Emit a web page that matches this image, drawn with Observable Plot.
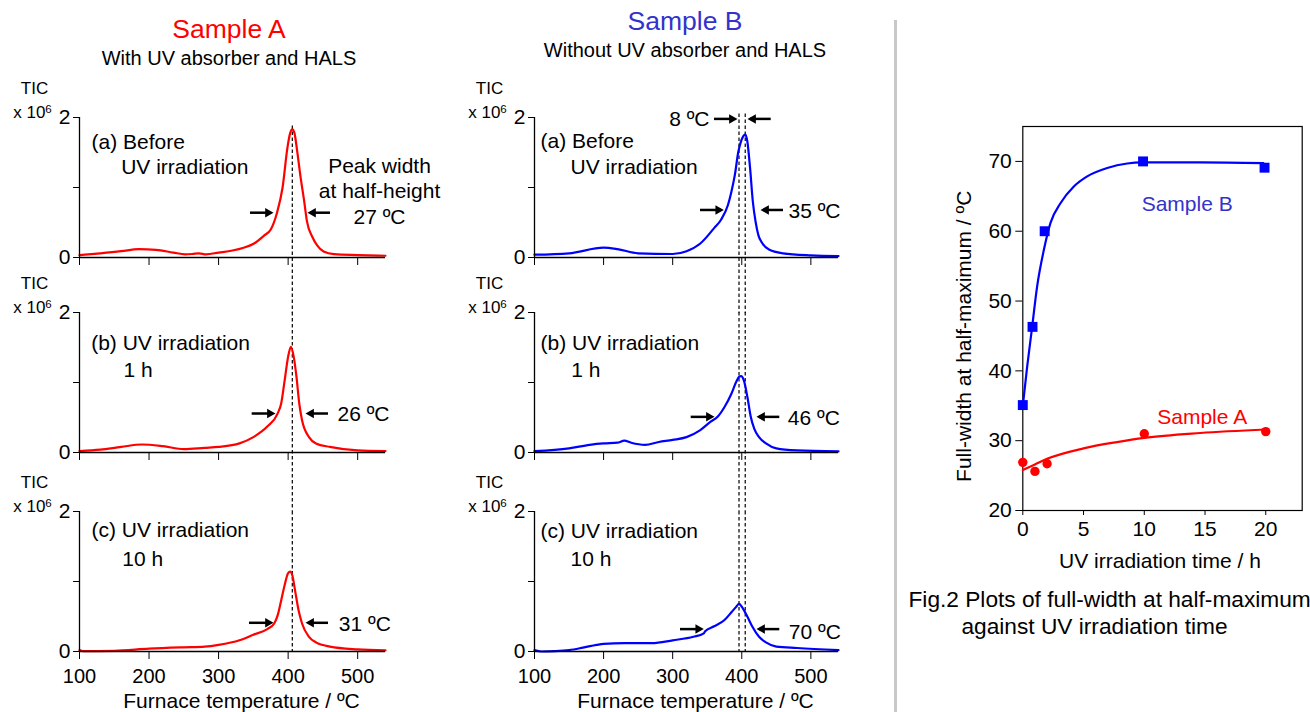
<!DOCTYPE html>
<html><head><meta charset="utf-8">
<script src="https://cdn.jsdelivr.net/npm/d3@7"></script>
<script src="https://cdn.jsdelivr.net/npm/@observablehq/plot@0.6"></script>
<style>
body{margin:0;background:#fff;}
#root{position:relative;width:1310px;height:712px;overflow:hidden;background:#fff;font-family:"Liberation Sans",Arial,Helvetica,sans-serif;}
.t{position:absolute;text-align:center;line-height:1;white-space:nowrap;}
</style></head><body><div id="root"></div>
<script>
// ---------- DATA ----------
const tempTicks = [100, 200, 300, 400, 500];
const ticTicks = [0, 1, 2];

// Sample A (red) TIC curves, x 10^6
const tempA_before = [100,130,160,185,210,235,252,262,272,282,300,320,336,351,365,375,384,392,399,403,406,409,413,418,423,427,435,442,451,466,500,540];
const ticA_before  = [.034,.06,.09,.12,.11,.07,.045,.05,.06,.045,.07,.1,.14,.2,.31,.4,.64,1.0,1.57,1.78,1.83,1.78,1.52,1.14,.81,.52,.29,.17,.086,.048,.035,.025];
const tempA_1h = [100,130,160,190,220,250,280,300,330,350,370,385,390,395,400,404,408,412,416,420,430,440,460,500,540];
const ticA_1h  = [.02,.04,.08,.114,.09,.048,.067,.08,.13,.22,.37,.56,.70,1.03,1.37,1.51,1.37,1.08,.70,.46,.22,.13,.08,.03,.02];
const tempA_10h = [100,105,150,200,250,280,300,330,350,370,380,385,390,395,400,403,406,410,415,420,430,440,460,500,540];
const ticA_10h  = [.02,.005,.01,.04,.06,.07,.095,.16,.24,.32,.40,.52,.73,.95,1.12,1.14,1.09,.87,.59,.40,.21,.13,.07,.03,.015];

// Sample B (blue) TIC curves
const tempB_before = [100,150,200,220,250,300,320,340,360,370,380,385,390,395,398,402,405,408,412,416,420,424,430,440,460,500,540];
const ticB_before  = [.04,.06,.14,.12,.06,.05,.09,.20,.42,.54,.75,.94,1.18,1.51,1.63,1.73,1.76,1.66,1.28,.80,.51,.32,.20,.11,.06,.03,.02];
const tempB_1h = [100,150,180,200,220,230,240,260,280,300,320,340,355,365,375,385,392,396,399,403,408,413,418,425,435,450,480,540];
const ticB_1h  = [.02,.06,.11,.13,.14,.17,.14,.11,.15,.18,.22,.32,.44,.51,.65,.84,1.01,1.08,1.09,1.03,.80,.51,.34,.22,.13,.06,.03,.015];
const tempB_10h = [100,110,130,150,170,190,200,230,270,300,330,345,347,360,375,385,392,396,400,408,415,425,435,450,480,540];
const ticB_10h  = [.02,0,.005,.02,.055,.095,.11,.12,.12,.16,.21,.26,.29,.36,.45,.56,.64,.68,.64,.50,.36,.21,.13,.07,.05,.02];

// peak-position dashed lines (ºC)
const dashA = [406];
const dashB = [396, 405];

// Fig.2 : full width at half maximum vs UV time
const timeTicks = [0, 5, 10, 15, 20];
const widthTicks = [20, 30, 40, 50, 60, 70];
const timeB = [0, 0.8, 1.8, 9.9, 19.9];
const widthB = [35.1, 46.3, 60.0, 70.0, 69.1];
const timeA = [0, 1, 2, 10, 20];
const widthA = [26.9, 25.6, 26.7, 31.0, 31.3];
const fitTimeB  = [0, 0.36, 0.77, 1.18, 1.73, 2.28, 3.1, 4.2, 5.3, 6.95, 8.6, 9.84, 14.6, 19.8];
const fitWidthB = [35, 40.6, 46.3, 52.1, 57.3, 61.2, 64.0, 66.4, 67.85, 69.05, 69.7, 69.85, 69.85, 69.75];
const fitTimeA  = [0, 1, 2, 5, 7.75, 10, 14.6, 20];
const fitWidthA = [25.8, 26.6, 27.4, 28.9, 29.8, 30.4, 31.1, 31.6];

// ---------- LAYOUT ----------
const FONT = '"Liberation Sans", Arial, Helvetica, sans-serif';
const RED = "#ff0000", BLUE = "#0000ff", TITLEBLUE = "#3333cc";
const root = document.getElementById("root");
function place(node, left, top) {
  node.style.position = "absolute";
  node.style.left = left + "px";
  node.style.top = top + "px";
  root.appendChild(node);
  return node;
}
function htmlText(txt, cx, top, size, color) {
  const d = document.createElement("div");
  d.className = "t";
  d.textContent = txt;
  d.style.fontSize = size + "px";
  d.style.color = color;
  d.style.width = "400px";
  place(d, cx - 200, top);
}

// titles
htmlText("Sample A", 229, 15.6, 26.5, RED);
htmlText("With UV absorber and HALS", 229, 48.1, 20, "#000");
htmlText("Sample B", 685, 7.6, 26.5, TITLEBLUE);
htmlText("Without UV absorber and HALS", 685, 40.4, 20, "#000");

// divider
const div = document.createElement("div");
div.style.width = "3px"; div.style.height = "692px"; div.style.background = "#c8c8c8";
place(div, 894, 20);

// arrow-head symbols (tip at the origin)
const triRight = {draw(ctx, size) { const r = Math.sqrt(size / Math.PI), L = 2.2 * r, w = 1.25 * r;
  ctx.moveTo(0, 0); ctx.lineTo(-L, -w); ctx.lineTo(-L, w); ctx.closePath(); }};
const triLeft = {draw(ctx, size) { const r = Math.sqrt(size / Math.PI), L = 2.2 * r, w = 1.25 * r;
  ctx.moveTo(0, 0); ctx.lineTo(L, -w); ctx.lineTo(L, w); ctx.closePath(); }};

const rowTops = [116.5, 312.3, 511];
const frameH = 140;
const EXP = "x 10\u2076";

function labelMark(l) {
  return Plot.text([l.text], {
    frameAnchor: "top-left", dx: l.dx, dy: l.dy,
    textAnchor: l.anchor || "start", lineAnchor: "bottom",
    fontSize: l.size || 21, lineHeight: l.lh || 1.2, fill: "black"
  });
}

function panel(cfg) {
  const data = cfg.temps.map((t, i) => ({t, v: cfg.tic[i]}));
  const rightA = cfg.arrows.filter(a => a.to > a.from);
  const leftA = cfg.arrows.filter(a => a.to < a.from);
  const labels = [
    {text: "TIC", dx: -45, dy: -23.3, anchor: "middle", size: 17},
    {text: EXP, dx: -66.3, dy: 0.5, size: 17},
    ...cfg.labels
  ];
  const mb = cfg.bottom ? 61 : 10;
  const svg = Plot.plot({
    width: 440, height: 50 + frameH + mb,
    marginLeft: cfg.ml, marginRight: 440 - cfg.ml - (cfg.frameW), marginTop: 50, marginBottom: mb,
    x: {domain: [100, 540]},
    y: {domain: [0, 2]},
    style: {fontFamily: FONT, fontSize: "21px", overflow: "visible", background: "transparent", color: "black"},
    marks: [
      Plot.ruleX(cfg.dash, {y1: cfg.dashTop, y2: cfg.dashBottom, stroke: "black", strokeWidth: 1.2, strokeDasharray: "3.5,2.5"}),
      Plot.line(data, {x: "t", y: "v", stroke: cfg.color, strokeWidth: 2.2, curve: "monotone-x"}),
      Plot.ruleX([100], {stroke: "black", strokeWidth: 1.3}),
      Plot.ruleY([0], {stroke: "black", strokeWidth: 1.3}),
      Plot.axisX({ticks: tempTicks, tickSize: 8, tickPadding: 9, label: null,
        tickFormat: cfg.bottom ? (d => String(d)) : (() => ""), fontSize: 20}),
      Plot.axisY({ticks: ticTicks, tickSize: 6, tickPadding: 3, label: null,
        tickFormat: d => d === 1 ? "" : String(d)}),
      Plot.ruleY(rightA, {y: "at", x1: "from", x2: "to", insetRight: 3, stroke: "black", strokeWidth: 2.5}),
      Plot.ruleY(leftA, {y: "at", x1: "to", x2: "from", insetLeft: 3, stroke: "black", strokeWidth: 2.5}),
      Plot.dot(rightA, {x: "to", y: "at", symbol: triRight, r: 3.8, fill: "black", stroke: "none"}),
      Plot.dot(leftA, {x: "to", y: "at", symbol: triLeft, r: 3.8, fill: "black", stroke: "none"}),
      ...labels.map(labelMark)
    ]
  });
  // render the exponent as a real superscript
  d3.select(svg).selectAll("text").filter(function () { return this.textContent === EXP; })
    .each(function () {
      const t = d3.select(this);
      t.text("x 10");
      t.append("tspan").attr("dy", "-5").attr("font-size", "11.5px").text("6");
    });
  place(svg, cfg.left, cfg.top - 50);
}

const xTitle = "Furnace temperature / \u00baC";
const panelsA = [
  {temps: tempA_before, tic: ticA_before, row: 0,
   arrows: [{from: 345.9, to: 379, at: 0.64}, {from: 460.9, to: 427.8, at: 0.64}],
   dashTop: 1.88, dashBottom: -0.797,
   labels: [{text: "(a) Before", dx: 12, dy: 31.8}, {text: "UV irradiation", dx: 41.7, dy: 56.8},
            {text: "Peak width\nat half-height\n27 \u00baC", dx: 300, dy: 106, anchor: "middle", lh: 1.2}]},
  {temps: tempA_1h, tic: ticA_1h, row: 1,
   arrows: [{from: 348.3, to: 381.8, at: 0.557}, {from: 458, to: 425, at: 0.557}],
   dashTop: 2.0, dashBottom: -0.839,
   labels: [{text: "(b) UV irradiation", dx: 11.7, dy: 37.7}, {text: "1 h", dx: 44, dy: 64.4},
            {text: "26 \u00baC", dx: 258, dy: 108.4}]},
  {temps: tempA_10h, tic: ticA_10h, row: 2, bottom: true,
   arrows: [{from: 344.4, to: 379, at: 0.41}, {from: 458, to: 425, at: 0.41}],
   dashTop: 2.0, dashBottom: 0,
   labels: [{text: "(c) UV irradiation", dx: 12, dy: 25.7}, {text: "10 h", dx: 42.7, dy: 54},
            {text: "31 \u00baC", dx: 259.3, dy: 119}, {text: xTitle, dx: 162, dy: 196.5, anchor: "middle"}]}
];
const panelsB = [
  {temps: tempB_before, tic: ticB_before, row: 0,
   arrows: [{from: 340.3, to: 374, at: 0.679}, {from: 460.4, to: 427.1, at: 0.679},
            {from: 360.5, to: 393.8, at: 1.98}, {from: 442.6, to: 408.3, at: 1.98}],
   dashTop: 2.05, dashBottom: -0.797,
   labels: [{text: "(a) Before", dx: 6, dy: 30.8}, {text: "UV irradiation", dx: 36, dy: 56.8},
            {text: "8 \u00baC", dx: 175, dy: 8.5, anchor: "end"}, {text: "35 \u00baC", dx: 254, dy: 100.2}]},
  {temps: tempB_1h, tic: ticB_1h, row: 1,
   arrows: [{from: 326.8, to: 360.5, at: 0.509}, {from: 455, to: 421.3, at: 0.509}],
   dashTop: 2.0, dashBottom: -0.839,
   labels: [{text: "(b) UV irradiation", dx: 6, dy: 37.7}, {text: "1 h", dx: 36.7, dy: 64.4},
            {text: "46 \u00baC", dx: 253.3, dy: 112.7}]},
  {temps: tempB_10h, tic: ticB_10h, row: 2, bottom: true,
   arrows: [{from: 311.3, to: 345, at: 0.32}, {from: 455, to: 421.3, at: 0.32}],
   dashTop: 2.0, dashBottom: 0,
   labels: [{text: "(c) UV irradiation", dx: 6, dy: 26.3}, {text: "10 h", dx: 36, dy: 54},
            {text: "70 \u00baC", dx: 254.3, dy: 127.3}, {text: xTitle, dx: 161, dy: 196.5, anchor: "middle"}]}
];
panelsA.forEach(p => panel({...p, color: RED, dash: dashA, left: 0, ml: 79, frameW: 306, top: rowTops[p.row]}));
panelsB.forEach(p => panel({...p, color: BLUE, dash: dashB, left: 440, ml: 94, frameW: 304, top: rowTops[p.row]}));

// ---------- Fig.2 scatter ----------
const ptsB = timeB.map((t, i) => ({t, w: widthB[i]}));
const ptsA = timeA.map((t, i) => ({t, w: widthA[i]}));
const fitB = fitTimeB.map((t, i) => ({t, w: fitWidthB[i]}));
const fitA = fitTimeA.map((t, i) => ({t, w: fitWidthA[i]}));
const scatter = Plot.plot({
  width: 410, height: 612,
  marginLeft: 122.3, marginRight: 8.3, marginTop: 26, marginBottom: 202,
  x: {domain: [0, 23]},
  y: {domain: [20, 75]},
  style: {fontFamily: FONT, fontSize: "21px", background: "transparent", color: "black"},
  marks: [
    Plot.frame({stroke: "black", strokeWidth: 1.2}),
    Plot.axisX({ticks: timeTicks, tickSize: 5, tickPadding: 6, label: null}),
    Plot.axisY({ticks: widthTicks, tickSize: 7, tickPadding: 4, label: null}),
    Plot.line(fitB, {x: "t", y: "w", stroke: BLUE, strokeWidth: 2.2, curve: "monotone-x"}),
    Plot.line(fitA, {x: "t", y: "w", stroke: RED, strokeWidth: 2.2, curve: "monotone-x"}),
    Plot.dot(ptsB, {x: "t", y: "w", symbol: "square", r: 5.6, fill: BLUE, stroke: "none"}),
    Plot.dot(ptsA, {x: "t", y: "w", symbol: "circle", r: 4.7, fill: RED, stroke: "none"}),
    Plot.text(["Sample B"], {frameAnchor: "top-left", dx: 164.4, dy: 84.5, textAnchor: "middle", lineAnchor: "bottom", fill: TITLEBLUE}),
    Plot.text(["Sample A"], {frameAnchor: "top-left", dx: 179.4, dy: 297.5, textAnchor: "middle", lineAnchor: "bottom", fill: RED}),
    Plot.text(["Full-width at half-maximum / \u00baC"], {frameAnchor: "left", dx: -59, dy: 17.8, rotate: -90, textAnchor: "middle", lineAnchor: "middle", fill: "black"}),
    Plot.text(["UV irradiation time / h"], {frameAnchor: "bottom", dx: -2.5, dy: 57.7, textAnchor: "middle", lineAnchor: "bottom", fill: "black"}),
    Plot.text(["Fig.2 Plots of full-width at half-maximum"], {frameAnchor: "bottom-left", dx: -114.3, dy: 96.7, textAnchor: "start", lineAnchor: "bottom", fontSize: 22.7, fill: "black"}),
    Plot.text(["against UV irradiation time"], {frameAnchor: "bottom", dx: -68, dy: 123, textAnchor: "middle", lineAnchor: "bottom", fontSize: 22.7, fill: "black"})
  ]
});
place(scatter, 900, 100);
</script></body></html>
